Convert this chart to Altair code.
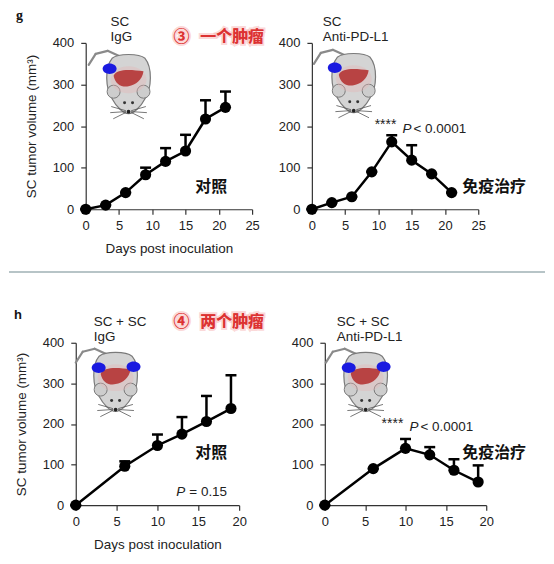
import altair as alt
import pandas as pd

# ---------------- data ----------------
days_g = [0, 3, 6, 9, 12, 15, 18, 21]
igg_g_mean = [0, 10, 40, 83, 115, 140, 217, 245]
igg_g_upper = [0, 10, 40, 100, 147, 179, 262, 283]
pdl1_g_mean = [0, 16, 30, 90, 162, 118, 85, 40]
pdl1_g_upper = [0, 16, 30, 90, 178, 154, 85, 40]

days_h = [0, 6, 10, 13, 16, 19]
igg_h_mean = [0, 96, 147, 175, 206, 238]
igg_h_upper = [0, 108, 174, 217, 269, 320]
pdl1_h_mean = [0, 90, 140, 124, 86, 57]
pdl1_h_upper = [0, 90, 163, 143, 113, 98]

y_ticks = [0, 100, 200, 300, 400]
x_ticks_g = [0, 5, 10, 15, 20, 25]
x_ticks_h = [0, 5, 10, 15, 20]

Y_TITLE = "SC tumor volume (mm³)"
X_TITLE = "Days post inoculation"

SANS = "Liberation Sans"
CJK = "Noto Sans CJK SC"

one = pd.DataFrame({"k": [0]})


def txt(s, x, y, size=13.5, weight="normal", color="#222", font=SANS,
        style="normal", baseline="alphabetic", **kw):
    return alt.Chart(one).mark_text(
        text=s, align="left", baseline=baseline, fontSize=size, fontWeight=weight,
        font=font, color=color, fontStyle=style, **kw
    ).encode(x=alt.value(x), y=alt.value(y))


def red_note(num, s, x, y):
    out = []
    for t, xx in ((num, x), (s, x + 27)):
        out.append(txt(t, xx, y, size=16, weight="bold", font=CJK, color="#e53935",
                       baseline="middle", stroke="#f6a9a9", strokeWidth=4, strokeOpacity=0.45))
        out.append(txt(t, xx, y, size=16, weight="bold", font=CJK, color="#dc3232",
                       baseline="middle"))
    return out


def anchor(x, y):
    return alt.Chart(one).mark_rule(strokeOpacity=0, strokeWidth=0.01).encode(
        x=alt.value(x), x2=alt.value(x), y=alt.value(y), y2=alt.value(y))


BODY = ("M0,1 C-0.18,1 -0.42,0.75 -0.55,0.5 C-0.78,0.15 -0.8,-0.55 -0.55,-0.85 "
        "C-0.35,-1.02 0.35,-1.02 0.55,-0.85 C0.8,-0.55 0.78,0.15 0.55,0.5 C0.42,0.75 0.18,1 0,1 Z")
LIVER = ("M-1,-0.2 C-0.8,-0.7 0.2,-0.6 1,-0.5 C0.9,0.1 0.5,0.4 0,0.5 "
         "C-0.4,0.6 -0.9,0.4 -1,-0.2 Z")
OVAL = "M-1,0 A1,0.75 0 1,1 1,0 A1,0.75 0 1,1 -1,0 Z"


def mouse(cx, cy, tumors):
    def pt(dx, dy, shape, size, fill, stroke=None, sw=0.0, op=1.0):
        kw = dict(shape=shape, size=size, filled=True, fill=fill, opacity=op, fillOpacity=op)
        if stroke:
            kw.update(stroke=stroke, strokeWidth=sw, strokeOpacity=1)
        else:
            kw.update(strokeWidth=0)
        return alt.Chart(one).mark_point(**kw).encode(x=alt.value(cx + dx), y=alt.value(cy + dy))

    def seg(x1, y1, x2, y2, color, w):
        return alt.Chart(one).mark_rule(color=color, strokeWidth=w, strokeCap="round").encode(
            x=alt.value(cx + x1), x2=alt.value(cx + x2), y=alt.value(cy + y1), y2=alt.value(cy + y2))

    L = [
        seg(-10, -28, -21, -33, "#8a8a8a", 2.2),
        seg(-21, -33, -33, -30, "#8a8a8a", 2.2),
        seg(-33, -30, -40, -19, "#8a8a8a", 2.2),
        pt(0, 0, BODY, 3600, "#d4d4d4", "#7a7a7a", 1.2),
        pt(-15, 8, "circle", 170, "#cdcdcd", "#7a7a7a", 1.0),
        pt(15, 8, "circle", 170, "#cdcdcd", "#7a7a7a", 1.0),
        pt(0, -4, OVAL, 1300, "#e7b3b3", op=0.6),
        pt(0, -5, LIVER, 900, "#b02424", op=0.9),
        pt(-4, 19, "circle", 9, "#333"),
        pt(4, 19, "circle", 9, "#333"),
        pt(0, 28, "circle", 14, "#222"),
    ]
    for sgn in (-1, 1):
        L += [seg(sgn * 3, 27, sgn * 17, 23, "#555", 0.8),
              seg(sgn * 3, 28, sgn * 18, 29, "#555", 0.8),
              seg(sgn * 3, 29, sgn * 15, 35, "#555", 0.8)]
    for (dx, dy) in tumors:
        L.append(pt(dx, dy, OVAL, 196, "#1a1ae0"))
    return L


def panel(days, mean, upper, xmax, xticks, w, h, xtitle, ytitle, extra):
    df = pd.DataFrame({"day": days, "mean": mean, "upper": upper})
    xaxis = alt.Axis(values=xticks, tickSize=5, labelPadding=5, titlePadding=9,
                     domainColor="#333", tickColor="#333", domainWidth=1.2, tickWidth=1.2,
                     labelFontSize=13, labelColor="#222", labelFont=SANS,
                     titleFontSize=13.5, titleFont=SANS, titleFontWeight="normal",
                     titleColor="#222", grid=False, labelFlush=False)
    yaxis = alt.Axis(values=y_ticks, tickSize=5, labelPadding=7, titlePadding=14,
                     domainColor="#333", tickColor="#333", domainWidth=1.2, tickWidth=1.2,
                     labelFontSize=13, labelColor="#222", labelFont=SANS,
                     titleFontSize=13.5, titleFont=SANS, titleFontWeight="normal",
                     titleColor="#222", grid=False, labelFlush=False)
    xs = alt.Scale(domain=[0, xmax], nice=False)
    ys = alt.Scale(domain=[0, 400], nice=False)

    def X():
        return alt.X("day:Q", scale=xs, axis=xaxis, title=xtitle)

    def Y(f):
        return alt.Y(f, scale=ys, axis=yaxis, title=ytitle)

    base = alt.Chart(df)
    line = base.mark_line(color="black", strokeWidth=2.5).encode(x=X(), y=Y("mean:Q"))
    err = base.mark_rule(color="black", strokeWidth=2.5).encode(x=X(), y=Y("mean:Q"), y2="upper:Q")
    cap = base.mark_tick(orient="horizontal", color="black", size=11, thickness=2.5,
                         opacity=1).encode(x=X(), y=Y("upper:Q"))
    pts = base.mark_point(filled=True, color="black", size=125, opacity=1).encode(x=X(), y=Y("mean:Q"))
    return alt.layer(line, err, cap, pts, *extra).properties(width=w, height=h)


# ---------------- top row (g) ----------------
tl_extra = (
    [anchor(-77, -34)]
    + mouse(43, 41, [(-19, -15)])
    + [txt("g", -70, -23, size=14, weight="bold", font="Liberation Serif", color="#111"),
       txt("SC", 25, -17), txt("IgG", 25, -2)]
    + red_note("③", "一个肿瘤", 88, -6)
    + [txt("对照", 110, 145, size=16, weight="bold", font=CJK, color="#111", baseline="middle"),
       alt.Chart(one).mark_rule(color="#9fb0b5", strokeWidth=1.5).encode(
           x=alt.value(-77), x2=alt.value(461), y=alt.value(230), y2=alt.value(230))]
)
tl = panel(days_g, igg_g_mean, igg_g_upper, 25, x_ticks_g, 167, 167, X_TITLE, Y_TITLE, tl_extra)

tr_extra = (
    mouse(42, 40, [(-19, -15)])
    + [txt("SC", 11, -17), txt("Anti-PD-L1", 11, -2),
       txt("****", 63, 86, size=14),
       txt("P", 91, 90, size=13.5, style="italic"),
       txt("< 0.0001", 102, 90, size=13.5)]
    + [txt("免疫治疗", 151, 145, size=16, weight="bold", font=CJK, color="#111", baseline="middle")]
)
tr = panel(days_g, pdl1_g_mean, pdl1_g_upper, 25, x_ticks_g, 167, 167, None, None, tr_extra)

# ---------------- bottom row (h) ----------------
bl_extra = (
    [anchor(-67, -40)]
    + mouse(40, 39, [(-17, -14), (18, -15)])
    + [txt("h", -62, -24, size=13, weight="bold", color="#111"),
       txt("SC + SC", 18, -17), txt("IgG", 18, -2)]
    + red_note("④", "两个肿瘤", 98, -21)
    + [txt("对照", 120, 111, size=16, weight="bold", font=CJK, color="#111", baseline="middle"),
       txt("P", 101, 154, size=13.5, style="italic"),
       txt("= 0.15", 114, 154, size=13.5)]
)
bl = panel(days_h, igg_h_mean, igg_h_upper, 20, x_ticks_h, 164, 163, X_TITLE, Y_TITLE, bl_extra)

br_extra = (
    mouse(41, 39, [(-17, -14), (18, -15)])
    + [txt("SC + SC", 12, -17), txt("Anti-PD-L1", 12, -2),
       txt("****", 57, 86, size=14),
       txt("P", 85, 89, size=13.5, style="italic"),
       txt("< 0.0001", 96, 89, size=13.5),
       txt("免疫治疗", 138, 111, size=16, weight="bold", font=CJK, color="#111", baseline="middle")]
)
br = panel(days_h, pdl1_h_mean, pdl1_h_upper, 20, x_ticks_h, 162, 163, None, None, br_extra)

# invisible 1px spacer so that the top row's plots sit 10px right of the bottom row's
spacer = alt.Chart(one).mark_point(opacity=0, size=1).encode(
    x=alt.value(0), y=alt.value(0)).properties(width=1, height=1)

row1 = alt.hconcat(spacer, alt.hconcat(tl, tr, spacing=60, bounds="flush"),
                   spacing=9, bounds="flush")
row2 = alt.hconcat(bl, br, spacing=86, bounds="flush")

chart = alt.vconcat(row1, row2, spacing=30).properties(
    padding=0, background="white"
).configure_view(strokeWidth=0)

chart.save("out.html", embed_options={"renderer": "svg", "actions": False})
